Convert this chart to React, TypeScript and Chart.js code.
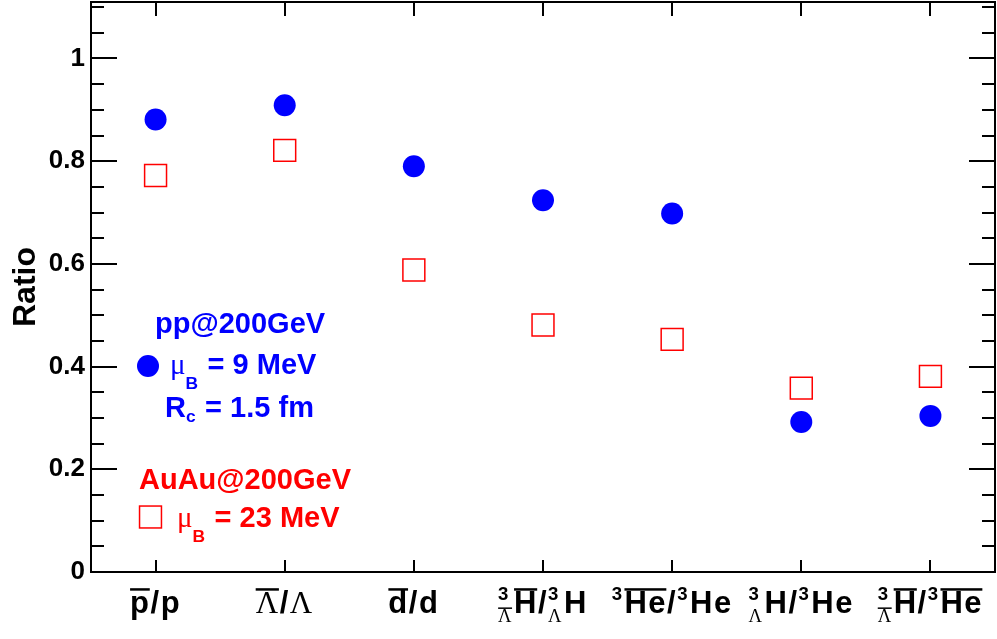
import React, { useEffect, useRef } from 'react';
import { Chart, registerables } from 'chart.js';

Chart.register(...registerables);

// ---------------- data ----------------
const categories = [
  '#bar{p}/p',
  '#bar{#Lambda}/#Lambda',
  '#bar{d}/d',
  '^{3}_{#bar{#Lambda}}#bar{H}/^{3}_{#Lambda}H',
  '^{3}#bar{He}/^{3}He',
  '^{3}_{#Lambda}H/^{3}He',
  '^{3}_{#bar{#Lambda}}#bar{H}/^{3}#bar{He}',
];
const ppRatios = [0.881, 0.909, 0.79, 0.724, 0.698, 0.292, 0.304];
const auauRatios = [0.772, 0.821, 0.588, 0.481, 0.453, 0.358, 0.381];
const yAxisMin = 0;
const yAxisMax = 1.11;
const yMajorStep = 0.2;
const yMinorStep = 0.05;
const yAxisTitle = 'Ratio';
const ppLegendLines = ['pp@200GeV', '#mu_{B} = 9 MeV', 'R_{c} = 1.5 fm'];
const auauLegendLines = ['AuAu@200GeV', '#mu_{B} = 23 MeV'];

// ---------------- style ----------------
const BLUE = '#0000ff';
const RED = '#ff0000';
const SANS = '"Liberation Sans", Arial, Helvetica, sans-serif';
const SERIF = '"Liberation Serif", "Times New Roman", serif';
const CIRCLE_R = 11;
const SQUARE_R = 15.5;

// ---------------- mini TLatex ----------------
type TNode =
  | { k: 't'; s: string; sym: boolean }
  | { k: 'bar'; ch: TNode[] }
  | { k: 's'; sup: TNode[] | null; sub: TNode[] | null };

function readGroup(s: string, i: number): [string, number] {
  let depth = 0;
  let j = i;
  for (; j < s.length; j++) {
    if (s[j] === '{') depth++;
    else if (s[j] === '}') {
      depth--;
      if (depth === 0) break;
    }
  }
  return [s.slice(i + 1, j), j + 1];
}

function parse(s: string): TNode[] {
  const out: TNode[] = [];
  let i = 0;
  while (i < s.length) {
    if (s.startsWith('#bar{', i)) {
      const [g, n] = readGroup(s, i + 4);
      out.push({ k: 'bar', ch: parse(g) });
      i = n;
    } else if (s.startsWith('#Lambda', i)) {
      out.push({ k: 't', s: '\u039B', sym: true });
      i += 7;
    } else if (s.startsWith('#mu', i)) {
      out.push({ k: 't', s: '\u03BC', sym: true });
      i += 3;
    } else if ((s[i] === '^' || s[i] === '_') && s[i + 1] === '{') {
      let sup: TNode[] | null = null;
      let sub: TNode[] | null = null;
      while (i < s.length && (s[i] === '^' || s[i] === '_') && s[i + 1] === '{') {
        const isSup = s[i] === '^';
        if ((isSup && sup) || (!isSup && sub)) break;
        const [g, n] = readGroup(s, i + 1);
        if (isSup) sup = parse(g);
        else sub = parse(g);
        i = n;
      }
      out.push({ k: 's', sup, sub });
    } else {
      let j = i + 1;
      while (j < s.length && !'#^_'.includes(s[j])) j++;
      out.push({ k: 't', s: s.slice(i, j), sym: false });
      i = j;
    }
  }
  return out;
}

function lastChar(n: TNode | null): string {
  if (!n) return '';
  if (n.k === 't') return n.s[n.s.length - 1];
  if (n.k === 'bar') return lastChar(n.ch[n.ch.length - 1] || null);
  return '';
}

function runLatex(
  ctx: CanvasRenderingContext2D,
  nodes: TNode[],
  x: number,
  y: number,
  size: number,
  draw: boolean,
  spacing: number
): number {
  let cx = x;
  let prev: TNode | null = null;
  for (const n of nodes) {
    if (n.k === 't') {
      ctx.font = n.sym ? `${size}px ${SERIF}` : `bold ${size}px ${SANS}`;
      for (const ch of n.s) {
        if (draw) ctx.fillText(ch, cx, y);
        cx += ctx.measureText(ch).width + spacing;
      }
    } else if (n.k === 'bar') {
      const w = runLatex(ctx, n.ch, cx, y, size, draw, spacing);
      if (draw) {
        const th = Math.max(1.5, size * 0.08);
        ctx.fillRect(cx, y - size * 0.8, w - spacing * 0.5, th);
      }
      cx += w;
    } else {
      const ss = size * 0.6;
      const pc = lastChar(prev);
      let drop = 0.3;
      if (pc === '\u03BC') drop = 0.5;
      else if (/[A-Za-z]/.test(pc)) drop = 0.18;
      const w1 = n.sup ? runLatex(ctx, n.sup, cx, y - size * 0.42, ss, draw, spacing * 0.6) : 0;
      const w2 = n.sub ? runLatex(ctx, n.sub, cx, y + size * drop, ss, draw, spacing * 0.6) : 0;
      cx += Math.max(w1, w2) + size * 0.05;
    }
    prev = n;
  }
  return cx - x;
}

function drawLatex(
  ctx: CanvasRenderingContext2D,
  text: string,
  x: number,
  y: number,
  size: number,
  color: string,
  align: 'left' | 'center',
  spacing: number
) {
  const nodes = parse(text);
  ctx.save();
  ctx.textAlign = 'left';
  ctx.textBaseline = 'alphabetic';
  ctx.fillStyle = color;
  const w = runLatex(ctx, nodes, 0, 0, size, false, spacing);
  const x0 = align === 'center' ? x - w / 2 : x;
  runLatex(ctx, nodes, x0, y, size, true, spacing);
  ctx.restore();
}

// ---------------- plugin ----------------
const rootFramePlugin = {
  id: 'rootFrame',
  afterDraw(chart: any) {
    const { ctx, chartArea } = chart;
    const { left, right, top, bottom } = chartArea;
    const xs = chart.scales.x;
    const ys = chart.scales.y;
    ctx.save();
    ctx.strokeStyle = '#000';
    ctx.lineWidth = 2;
    ctx.strokeRect(left, top, right - left, bottom - top);
    ctx.beginPath();
    const nMinor = Math.round((yAxisMax - yAxisMin) / yMinorStep - 0.5);
    const perMajor = Math.round(yMajorStep / yMinorStep);
    for (let k = 0; k <= nMinor; k++) {
      const v = yAxisMin + k * yMinorStep;
      const py = Math.round(ys.getPixelForValue(v));
      const len = k % perMajor === 0 ? 26 : 13;
      ctx.moveTo(left, py);
      ctx.lineTo(left + len, py);
      ctx.moveTo(right, py);
      ctx.lineTo(right - len, py);
    }
    for (let i = 0; i < categories.length; i++) {
      const px = Math.round(xs.getPixelForValue(i));
      ctx.moveTo(px, bottom);
      ctx.lineTo(px, bottom - 12);
      ctx.moveTo(px, top);
      ctx.lineTo(px, top + 14);
    }
    ctx.stroke();
    ctx.restore();

    for (let i = 0; i < categories.length; i++) {
      const px = xs.getPixelForValue(i);
      drawLatex(ctx, categories[i], px, bottom + 41, 31, '#000', 'center', 1.5);
    }

    drawLatex(ctx, ppLegendLines[0], 155, 333, 29, BLUE, 'left', 0);
    drawLatex(ctx, ppLegendLines[1], 170, 374, 29, BLUE, 'left', 0);
    drawLatex(ctx, ppLegendLines[2], 165, 417, 29, BLUE, 'left', 0);
    drawLatex(ctx, auauLegendLines[0], 139, 489, 29, RED, 'left', 0);
    drawLatex(ctx, auauLegendLines[1], 177, 527, 29, RED, 'left', 0);

    ctx.save();
    ctx.fillStyle = BLUE;
    ctx.beginPath();
    ctx.arc(148, 366, CIRCLE_R, 0, Math.PI * 2);
    ctx.fill();
    ctx.strokeStyle = RED;
    ctx.lineWidth = 1.5;
    const hs = SQUARE_R * Math.SQRT1_2;
    ctx.strokeRect(150.5 - hs, 517 - hs, hs * 2, hs * 2);
    ctx.restore();
  },
};

function isMajor(v: number): boolean {
  const r = v / yMajorStep;
  return Math.abs(r - Math.round(r)) < 1e-6;
}

export default function App() {
  const canvasRef = useRef<HTMLCanvasElement | null>(null);

  useEffect(() => {
    const canvas = canvasRef.current;
    if (!canvas) return;
    const chart = new Chart(canvas, {
      type: 'line',
      data: {
        labels: categories,
        datasets: [
          {
            label: 'pp@200GeV',
            data: ppRatios,
            showLine: false,
            pointStyle: 'circle',
            pointRadius: CIRCLE_R,
            pointHoverRadius: CIRCLE_R,
            pointBackgroundColor: BLUE,
            pointBorderColor: BLUE,
            pointBorderWidth: 0,
          },
          {
            label: 'AuAu@200GeV',
            data: auauRatios,
            showLine: false,
            pointStyle: 'rect',
            pointRadius: SQUARE_R,
            pointHoverRadius: SQUARE_R,
            pointBackgroundColor: 'rgba(0,0,0,0)',
            pointBorderColor: RED,
            pointBorderWidth: 1.5,
          },
        ],
      },
      options: {
        animation: false,
        responsive: true,
        maintainAspectRatio: false,
        layout: { autoPadding: false, padding: { left: 0, right: 2, top: 2, bottom: 0 } },
        plugins: {
          legend: { display: false },
          tooltip: { enabled: false },
        },
        events: [],
        scales: {
          x: {
            type: 'category',
            offset: true,
            grid: { display: false, drawTicks: false },
            border: { display: false },
            ticks: { display: false },
            afterFit: (s: any) => {
              s.height = 67;
              s.paddingLeft = 0;
              s.paddingRight = 0;
            },
          },
          y: {
            min: yAxisMin,
            max: yAxisMax,
            grid: { display: false, drawTicks: false },
            border: { display: false },
            ticks: {
              stepSize: yMajorStep,
              autoSkip: false,
              padding: 6,
              color: '#000',
              font: { family: SANS, weight: 'bold', size: 26 },
              callback: (v: any) => (isMajor(Number(v)) ? String(Number(Number(v).toFixed(1))) : ''),
            },
            title: {
              display: true,
              text: yAxisTitle,
              color: '#000',
              font: { family: SANS, weight: 'bold', size: 32 },
              padding: { top: 7, bottom: 0 },
            },
            afterFit: (s: any) => {
              s.width = 91;
              s.paddingTop = 0;
              s.paddingBottom = 0;
            },
          },
        },
      },
      plugins: [rootFramePlugin],
    } as any);
    return () => chart.destroy();
  }, []);

  return (
    <div style={{ position: 'absolute', left: 0, top: 0, width: 997, height: 639, background: '#fff' }}>
      <canvas ref={canvasRef} />
    </div>
  );
}
